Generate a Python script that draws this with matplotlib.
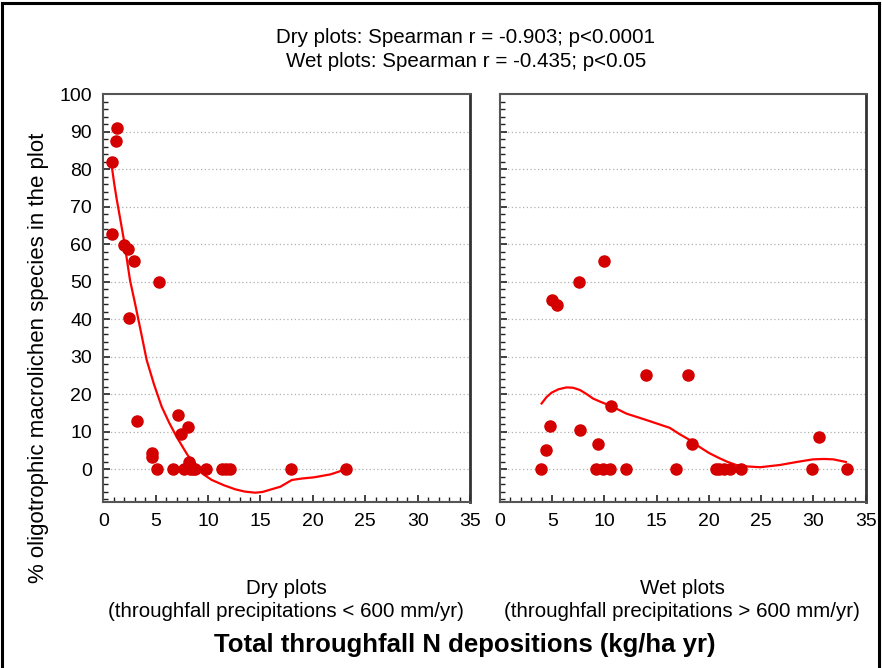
import matplotlib
matplotlib.use("Agg")
import matplotlib.pyplot as plt
from matplotlib.ticker import MultipleLocator
from matplotlib.lines import Line2D

plt.rcParams['font.family'] = ['Liberation Sans', 'DejaVu Sans']

# ---- data ----
dry_x = [1.34, 1.21, 0.80, 0.80, 2.0, 2.39, 2.93, 5.29, 2.49, 3.22, 4.62, 4.62,
         5.1, 6.66, 7.1, 7.39, 8.06, 7.68, 8.2, 8.3, 8.3, 8.6, 8.8, 9.84,
         11.3, 11.7, 12.1, 17.9, 23.2]
dry_y = [90.9, 87.6, 81.9, 62.7, 59.9, 58.8, 55.6, 50.0, 40.2, 12.8, 4.4, 3.3,
         0, 0, 14.3, 9.3, 11.2, 0, 2.0, 1.0, 0, 0, 0, 0,
         0, 0, 0, 0, 0]
dry_fit_x = [0.8, 1.05, 1.28, 1.6, 2.0, 2.55, 3.03, 3.6, 4.14, 4.85, 5.58,
             6.3, 7.0, 7.9, 8.76, 9.5, 10.35, 11.5, 12.6, 13.5, 14.5, 15.2,
             15.8, 16.9, 18.0, 19.0, 20.1, 21.7, 23.2]
dry_fit_y = [81.0, 76.0, 72.0, 67.0, 60.6, 50.4, 44.2, 36.5, 29.1, 22.5, 16.6,
             12.3, 8.6, 4.4, 0.6, -1.3, -2.9, -4.3, -5.4, -6.0, -6.3, -6.1,
             -5.6, -4.7, -2.9, -2.5, -2.2, -1.4, 0.0]

wet_x = [9.97, 7.52, 5.0, 5.48, 14.0, 18.0, 10.58, 4.75, 7.65, 4.43, 9.4,
         3.89, 9.18, 9.88, 10.5, 12.1, 16.8, 18.4, 20.7, 21.0, 21.4, 22.0,
         23.1, 29.9, 30.5, 33.2]
wet_y = [55.5, 49.9, 45.1, 43.9, 25.0, 25.0, 16.9, 11.6, 10.4, 5.0, 6.7,
         0, 0, 0, 0, 0, 0, 6.7, 0, 0, 0, 0,
         0, 0, 8.5, 0]
wet_fit_x = [3.98, 4.45, 4.94, 5.6, 6.37, 7.0, 7.65, 8.3, 8.92, 9.75, 10.58,
             12.1, 14.0, 16.25, 17.2, 18.2, 19.1, 20.0, 21.0, 21.8, 22.6,
             23.7, 24.9, 26.8, 28.4, 29.96, 31.0, 31.9, 33.1]
wet_fit_y = [17.5, 19.2, 20.4, 21.3, 21.8, 21.7, 21.1, 20.0, 18.8, 17.8, 16.9,
             14.8, 13.1, 11.0, 9.3, 7.7, 5.9, 4.3, 2.9, 1.9, 1.1,
             0.7, 0.5, 1.1, 1.9, 2.6, 2.7, 2.6, 1.9]

xticks = [0, 5, 10, 15, 20, 25, 30, 35]
yticks = [0, 10, 20, 30, 40, 50, 60, 70, 80, 90, 100]

title_lines = "Dry plots: Spearman r = -0.903; p<0.0001\nWet plots: Spearman r = -0.435; p<0.05"
ylabel = "% oligotrophic macrolichen species in the plot"
dry_label = "Dry plots\n(throughfall precipitations < 600 mm/yr)"
wet_label = "Wet plots\n(throughfall precipitations > 600 mm/yr)"
xlabel = "Total throughfall N depositions (kg/ha yr)"

W, H = 882, 668
fig = plt.figure(figsize=(W / 100, H / 100), dpi=100)

def fx(px):
    return px / W

def fy(py):
    return 1 - py / H

ax1 = fig.add_axes([fx(103.3), fy(501.7), fx(470) - fx(103.3), fy(94.3) - fy(501.7)])
ax2 = fig.add_axes([fx(500), fy(501.7), fx(865.7) - fx(500), fy(94.3) - fy(501.7)])

pt_color = '#d40000'
for ax, x, y, fxs, fys in [(ax1, dry_x, dry_y, dry_fit_x, dry_fit_y),
                           (ax2, wet_x, wet_y, wet_fit_x, wet_fit_y)]:
    ax.set_xlim(0, 35)
    ax.set_ylim(-8.7, 100)
    for yv in yticks[:-1]:
        ax.axhline(yv, color='#b0b0b0', lw=0.9, ls=(0, (1, 2)), zorder=0)
    ax.plot(fxs, fys, color='#ff0000', lw=1.6, zorder=2,
            solid_joinstyle='round')
    ax.plot(x, y, 'o', color=pt_color, ms=8, mec=pt_color, zorder=3)
    ax.set_xticks(xticks)
    ax.set_yticks(yticks)
    ax.xaxis.set_minor_locator(MultipleLocator(1))
    ax.yaxis.set_minor_locator(MultipleLocator(2))
    ax.tick_params(which='both', direction='in', top=False, right=False,
                   labelsize=14, colors='#222222', labelcolor='black')
    ax.tick_params(which='major', length=5, width=1.2, pad=8)
    ax.tick_params(which='minor', length=3.5, width=1.0)
    for s in ax.spines.values():
        s.set_color('#555555')
        s.set_linewidth(1.5)
    ax.spines['right'].set_color('#333333')
    ax.spines['right'].set_linewidth(2.0)

ax2.tick_params(axis='y', which='both', labelleft=False)
ax1.set_ylabel(ylabel, fontsize=16, va='center')
ax1.yaxis.set_label_coords(-0.178, 0.353)

fig.text(fx(466), fy(49.5), title_lines, ha='center', va='center', fontsize=14.8,
         linespacing=1.38)
fig.text(fx(286), fy(600), dry_label, ha='center', va='center', fontsize=14.8,
         linespacing=1.33)
fig.text(fx(682), fy(600), wet_label, ha='center', va='center', fontsize=14.8,
         linespacing=1.33)
fig.text(fx(465), fy(645), xlabel, ha='center', va='center', fontsize=18.5,
         fontweight='bold')

# figure border
fig.add_artist(Line2D([fx(2), fx(2)], [0, fy(3)], transform=fig.transFigure,
                      color='black', lw=2.2))
fig.add_artist(Line2D([fx(2), fx(879)], [fy(3), fy(3)], transform=fig.transFigure,
                      color='black', lw=2.2))
fig.add_artist(Line2D([fx(879), fx(879)], [fy(3), 0], transform=fig.transFigure,
                      color='black', lw=2.2))

fig.savefig('out.png', dpi=100)
